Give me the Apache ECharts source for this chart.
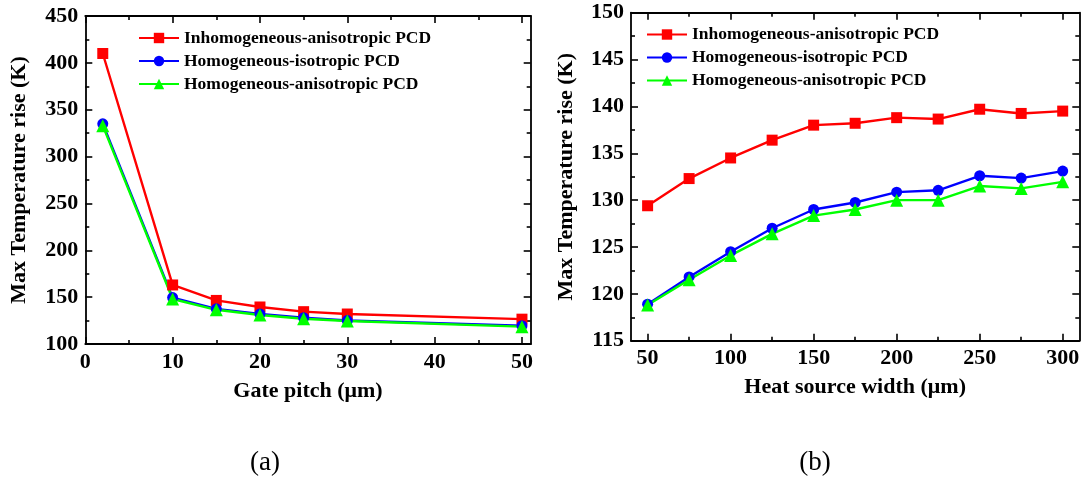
<!DOCTYPE html>
<html>
<head>
<meta charset="utf-8">
<script src="https://cdn.jsdelivr.net/npm/echarts@6/dist/echarts.min.js"></script>
<style>
  html, body { margin: 0; padding: 0; background: #fff; }
  #chart { width: 1082px; height: 481px; }
</style>
</head>
<body>
<div id="chart"></div>
<script>
// Series names
const seriesNames = ['Inhomogeneous-anisotropic PCD', 'Homogeneous-isotropic PCD', 'Homogeneous-anisotropic PCD'];

// (a) Max temperature rise vs gate pitch
const gatePitch = [2, 10, 15, 20, 25, 30, 50];
const gateInhomAniso = [410, 163, 146.5, 139.5, 134.5, 132, 126.5];
const gateHomIso = [335, 149.5, 137.5, 132, 128, 125, 119.5];
const gateHomAniso = [333, 148, 136.5, 131, 127, 124.5, 118.5];

// (b) Max temperature rise vs heat source width
const heatWidth = [50, 75, 100, 125, 150, 175, 200, 225, 250, 275, 300];
const widthInhomAniso = [129.4, 132.3, 134.5, 136.4, 138.0, 138.2, 138.8, 138.65, 139.7, 139.25, 139.5];
const widthHomIso = [118.9, 121.8, 124.5, 127.0, 129.0, 129.75, 130.85, 131.05, 132.6, 132.35, 133.1];
const widthHomAniso = [118.8, 121.5, 124.1, 126.4, 128.35, 129.0, 130.0, 130.0, 131.5, 131.25, 131.95];

// Tick values
const gateXMajor = [0, 10, 20, 30, 40, 50];
const gateXMinor = [5, 15, 25, 35, 45];
const gateYMajor = [100, 150, 200, 250, 300, 350, 400, 450];
const gateYMinor = [125, 175, 225, 275, 325, 375, 425];
const widthXMajor = [50, 100, 150, 200, 250, 300];
const widthXMinor = [75, 125, 175, 225, 275];
const widthYMajor = [115, 120, 125, 130, 135, 140, 145, 150];
const widthYMinor = [117.5, 122.5, 127.5, 132.5, 137.5, 142.5, 147.5];

const serif = 'Liberation Serif, "Times New Roman", serif';
const colors = ['#ff0000', '#0000ff', '#00ff00'];
const symbols = ['rect', 'circle', 'triangle'];

// Builds a framed axis pair (major + minor ticks) on both sides of a grid
function framedAxes(dim, grid, min, max, majors, minors, name, nameGap) {
  const sides = dim === 'x' ? ['bottom', 'top'] : ['left', 'right'];
  const axes = [];
  sides.forEach((pos, s) => {
    const main = s === 0;
    axes.push({
      type: 'value', gridIndex: grid, position: pos, min: min, max: max,
      name: main ? name : '', nameLocation: 'middle', nameGap: nameGap,
      nameTextStyle: { fontFamily: serif, fontWeight: 'bold', fontSize: 22, color: '#000' },
      splitLine: { show: false },
      axisLine: { show: true, onZero: false, lineStyle: { color: '#000', width: 1.8 } },
      axisTick: { show: true, inside: true, length: 7, customValues: majors, lineStyle: { color: '#000', width: 1.6 } },
      axisLabel: { show: main, customValues: majors, margin: 7, fontFamily: serif, fontWeight: 'bold', fontSize: 22, color: '#000' },
      minorTick: { show: false }
    });
    axes.push({
      type: 'value', gridIndex: grid, position: pos, min: min, max: max,
      splitLine: { show: false },
      axisLine: { show: false, onZero: false },
      axisTick: { show: true, inside: true, length: 4, customValues: minors, lineStyle: { color: '#000', width: 1.6 } },
      axisLabel: { show: false },
      minorTick: { show: false }
    });
  });
  return axes;
}

const xAxes = [].concat(
  framedAxes('x', 0, 0, 51, gateXMajor, gateXMinor, 'Gate pitch (μm)', 36),
  framedAxes('x', 1, 40, 310, widthXMajor, widthXMinor, 'Heat source width (μm)', 36)
);
const yAxes = [].concat(
  framedAxes('y', 0, 100, 450, gateYMajor, gateYMinor, 'Max Temperature rise (K)', 55),
  framedAxes('y', 1, 115, 150, widthYMajor, widthYMinor, 'Max Temperature rise (K)', 54)
);

function pairs(xs, ys) { return xs.map((x, i) => [x, ys[i]]); }

function lineSeries(idx, axisIndex, xs, ys) {
  return {
    name: seriesNames[idx], type: 'line',
    xAxisIndex: axisIndex, yAxisIndex: axisIndex,
    data: pairs(xs, ys),
    symbol: symbols[idx], symbolSize: idx === 2 ? 13 : 11,
    color: colors[idx],
    itemStyle: { color: colors[idx] },
    lineStyle: { color: colors[idx], width: 2.4 },
    emphasis: { disabled: true },
    animation: false
  };
}

const gateSets = [gateInhomAniso, gateHomIso, gateHomAniso];
const widthSets = [widthInhomAniso, widthHomIso, widthHomAniso];
const series = [];
gateSets.forEach((ys, i) => series.push(lineSeries(i, 0, gatePitch, ys)));
widthSets.forEach((ys, i) => series.push(lineSeries(i, 4, heatWidth, ys)));

const legendCommon = {
  orient: 'vertical', padding: 0, itemWidth: 40, itemHeight: 13, itemGap: 5,
  data: seriesNames, selectedMode: false,
  textStyle: { fontFamily: serif, fontWeight: 'bold', fontSize: 17.5, color: '#000' }
};

const chart = echarts.init(document.getElementById('chart'), null, { renderer: 'canvas' });
chart.setOption({
  backgroundColor: '#ffffff',
  animation: false,
  grid: [
    { left: 85.3, top: 16, width: 445.4, height: 328, outerBoundsMode: 'none', containLabel: false },
    { left: 631, top: 12.7, width: 448.3, height: 328, outerBoundsMode: 'none', containLabel: false }
  ],
  xAxis: xAxes,
  yAxis: yAxes,
  legend: [
    Object.assign({ left: 138, top: 29 }, legendCommon),
    Object.assign({ left: 646, top: 25.5 }, legendCommon)
  ],
  series: series,
  graphic: [
    { type: 'text', x: 265, y: 463, style: { text: '(a)', fontFamily: serif, fontSize: 27, fill: '#000', align: 'center', verticalAlign: 'middle' } },
    { type: 'text', x: 815, y: 463, style: { text: '(b)', fontFamily: serif, fontSize: 27, fill: '#000', align: 'center', verticalAlign: 'middle' } }
  ]
});
</script>
</body>
</html>
